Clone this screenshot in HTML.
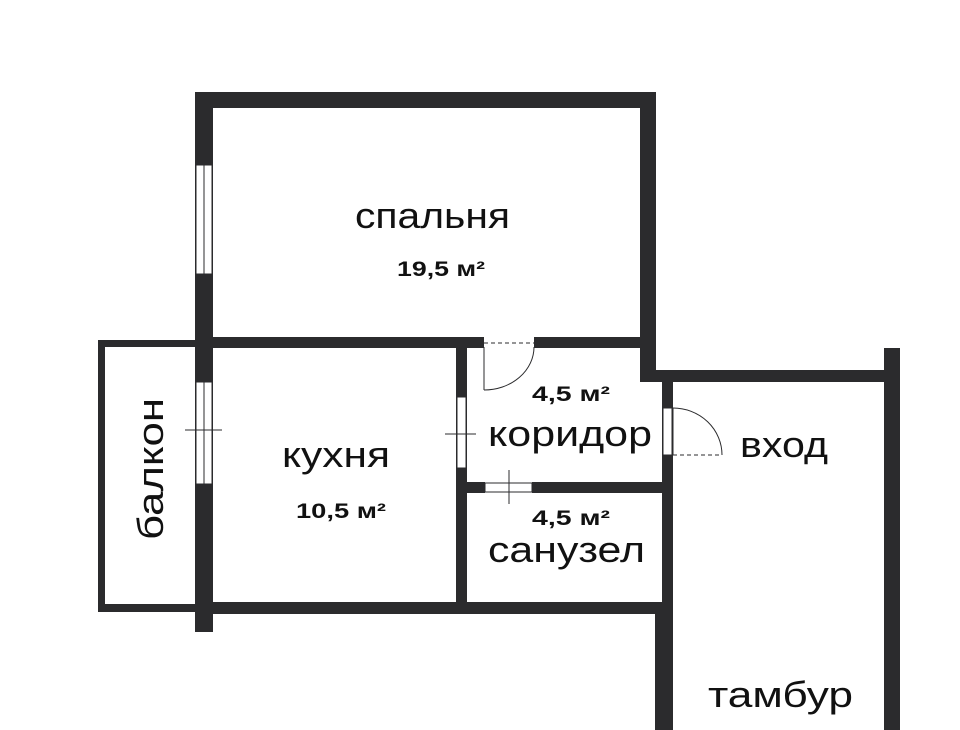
<!DOCTYPE html>
<html><head><meta charset="utf-8"><style>
html,body{margin:0;padding:0;background:#fff;}
svg{display:block}
text{font-family:"Liberation Sans","DejaVu Sans",sans-serif;fill:#111}
</style></head><body>
<svg width="960" height="730" viewBox="0 0 960 730" xmlns="http://www.w3.org/2000/svg">
<g fill="#2b2b2d">
<rect x="195" y="92" width="461" height="16"/>
<rect x="195" y="92" width="18" height="540"/>
<rect x="640" y="92" width="16" height="290"/>
<rect x="213" y="337" width="271" height="11"/>
<rect x="534" y="337" width="106" height="11"/>
<rect x="640" y="370" width="259" height="12"/>
<rect x="884" y="348" width="16" height="382"/>
<rect x="456" y="337" width="11" height="265"/>
<rect x="662" y="370" width="11" height="243"/>
<rect x="467" y="482" width="18" height="11"/>
<rect x="532" y="482" width="133" height="11"/>
<rect x="213" y="602" width="460" height="12"/>
<rect x="655" y="602" width="18" height="128"/>
<rect x="98" y="340" width="97" height="7"/>
<rect x="98" y="340" width="7" height="272"/>
<rect x="98" y="604" width="97" height="8"/>
</g>
<g fill="#fff" stroke="#2b2b2d" stroke-width="1">
<rect x="196" y="165" width="16" height="109"/>
<rect x="196" y="382" width="16" height="102"/>
<rect x="457" y="397" width="9" height="71"/>
<rect x="485" y="483" width="47" height="9"/>
<rect x="663" y="408" width="9" height="47"/>
</g>
<g stroke="#2b2b2d" stroke-width="1" fill="none">
<line x1="204" y1="165" x2="204" y2="274"/>
<line x1="204" y1="382" x2="204" y2="484"/>
<line x1="185" y1="430" x2="222" y2="430"/>
<line x1="445" y1="434" x2="476" y2="434"/>
<line x1="509" y1="470" x2="509" y2="504"/>
<line x1="484" y1="347" x2="484" y2="390"/>
<path d="M484 390 A50 43 0 0 0 534 347"/>
<line x1="484" y1="343" x2="534" y2="343" stroke-dasharray="4 3"/>
<line x1="673" y1="408" x2="673" y2="455"/>
<path d="M673 408 A49 47 0 0 1 722 455"/>
<line x1="673" y1="455" x2="722" y2="455" stroke-dasharray="4 3"/>
</g>
<g font-size="36">
<text x="355" y="228" textLength="155" lengthAdjust="spacingAndGlyphs">спальня</text>
<text x="282" y="467" textLength="108" lengthAdjust="spacingAndGlyphs">кухня</text>
<text x="488" y="446" textLength="164" lengthAdjust="spacingAndGlyphs">коридор</text>
<text x="488" y="562" textLength="157" lengthAdjust="spacingAndGlyphs">санузел</text>
<text x="740" y="457" textLength="88" lengthAdjust="spacingAndGlyphs">вход</text>
<text x="708" y="707" textLength="145" lengthAdjust="spacingAndGlyphs">тамбур</text>
<text transform="translate(163,540) rotate(-90)" textLength="142" lengthAdjust="spacingAndGlyphs">балкон</text>
</g>
<g font-size="21" font-weight="bold">
<text x="397" y="276" textLength="88" lengthAdjust="spacingAndGlyphs">19,5 м²</text>
<text x="296" y="518" textLength="90" lengthAdjust="spacingAndGlyphs">10,5 м²</text>
<text x="532" y="401" textLength="78" lengthAdjust="spacingAndGlyphs">4,5 м²</text>
<text x="532" y="525" textLength="78" lengthAdjust="spacingAndGlyphs">4,5 м²</text>
</g>
</svg>
</body></html>
